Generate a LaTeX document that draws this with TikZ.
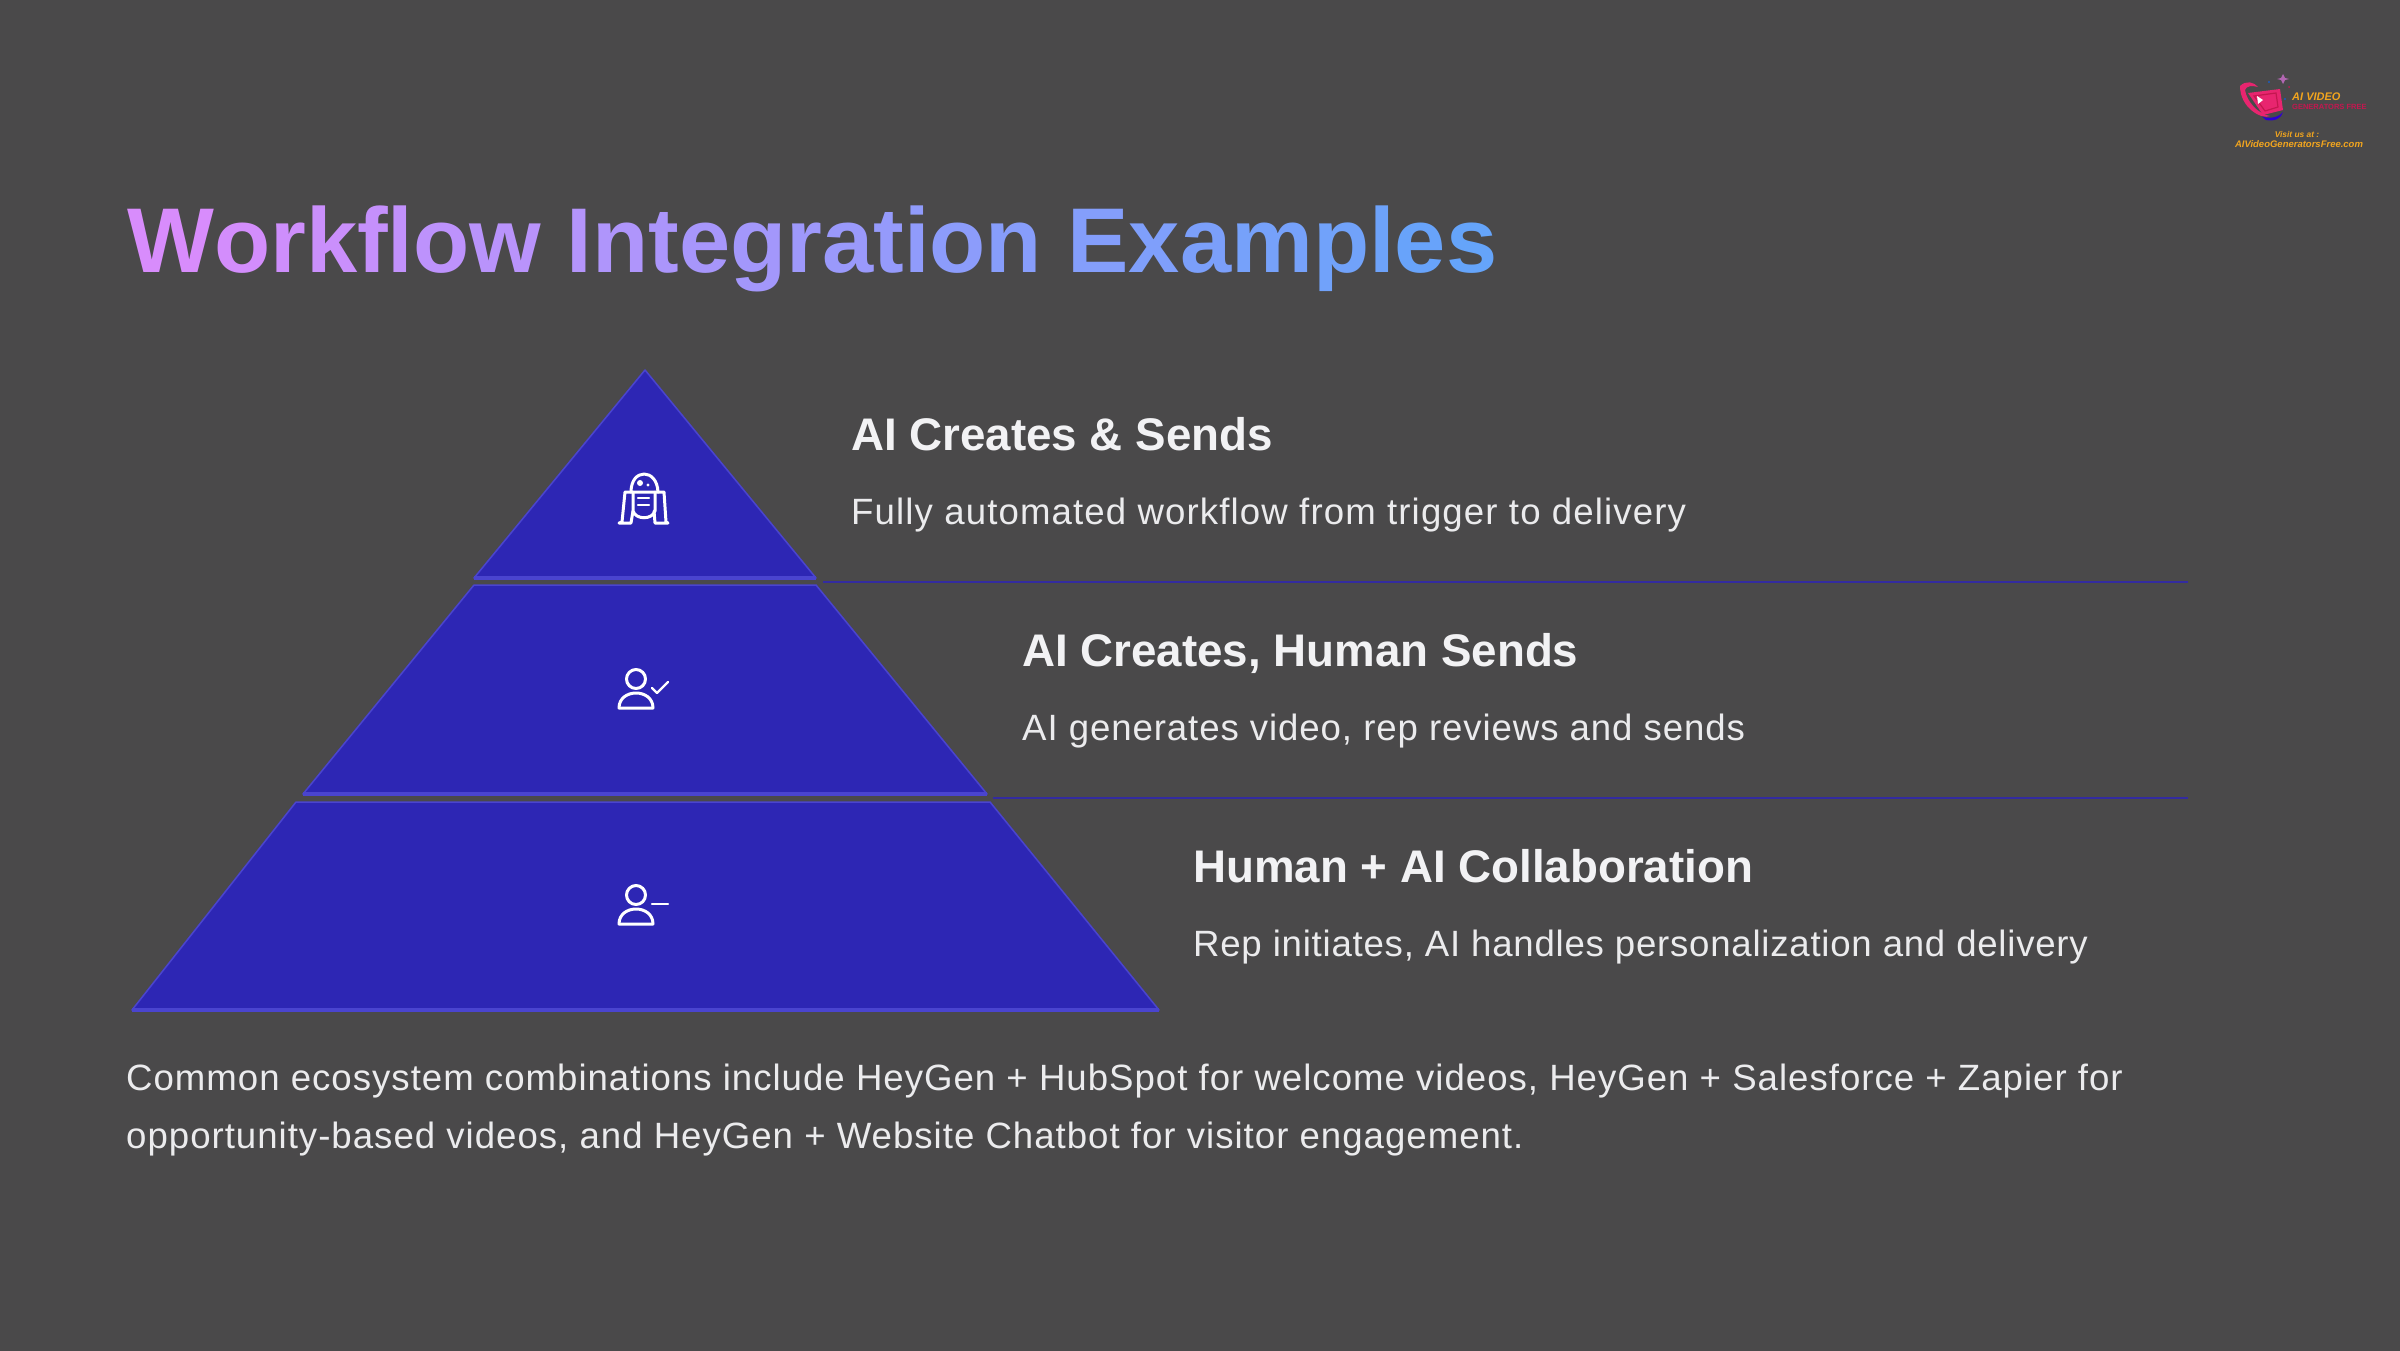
\documentclass[tikz,border=0pt]{standalone}
\usepackage{fontspec}
\setmainfont{Liberation Sans}
\newfontfamily\bodyfam[LetterSpace=2.5]{Liberation Sans}
\newfontfamily\bodyfamfoot[LetterSpace=2.75]{Liberation Sans}
\newfontfamily\bodyfamwide[LetterSpace=3.1]{Liberation Sans}
\newfontfamily\bodyfamtight[LetterSpace=2.1]{Liberation Sans}
\usetikzlibrary{calc}
\definecolor{bgc}{HTML}{4A494A}
\definecolor{tierfill}{HTML}{2D26B4}
\definecolor{tieredge}{HTML}{4A44CF}
\definecolor{rulec}{HTML}{332BA0}
\definecolor{headc}{HTML}{F2F2F4}
\definecolor{bodyc}{HTML}{EBEBED}
\definecolor{gradl}{HTML}{D88CFC}
\definecolor{gradr}{HTML}{5CA6FA}
\definecolor{logoorange}{HTML}{F2A51E}
\definecolor{logored}{HTML}{C4174F}
\definecolor{logopink}{HTML}{E8256F}
\newcount\gradn
\newcommand{\gradletter}[1]{\pgfmathtruncatemacro\gradp{100-\the\gradn*100/28}\textcolor{gradl!\gradp!gradr}{#1}\advance\gradn by 1\relax}
\newcommand{\gradtitle}{\gradn=0\relax
\gradletter{W}\gradletter{o}\gradletter{r}\gradletter{k}\gradletter{f}\gradletter{l}\gradletter{o}\gradletter{w} \gradletter{I}\gradletter{n}\gradletter{t}\gradletter{e}\gradletter{g}\gradletter{r}\gradletter{a}\gradletter{t}\gradletter{i}\gradletter{o}\gradletter{n} \gradletter{E}\gradletter{x}\gradletter{a}\gradletter{m}\gradletter{p}\gradletter{l}\gradletter{e}\gradletter{s}}
\tikzset{
  tier/.style={fill=tierfill,draw=tieredge,line width=1.5pt,line join=round},
  tierbase/.style={draw=tieredge,line width=4pt},
  tierrule/.style={draw=rulec,line width=2pt},
  headtext/.style={anchor=base west,inner sep=0pt,text=headc,font=\fontsize{45.7}{52}\selectfont\bfseries},
  bodytext/.style={anchor=base west,inner sep=0pt,text=bodyc,font=\bodyfam\fontsize{36.6}{44}\selectfont},
  bodyfoot/.style={bodytext,font=\bodyfamfoot\fontsize{36.6}{44}\selectfont},
  bodywide/.style={bodytext,font=\bodyfamwide\fontsize{36.6}{44}\selectfont},
  bodytight/.style={bodytext,font=\bodyfamtight\fontsize{36.6}{44}\selectfont},
  icon/.style={draw=white,line width=3pt,line cap=round,line join=round},
}
\begin{document}
\begin{tikzpicture}[x=1pt,y=-1pt]
\useasboundingbox (0,0) rectangle (2400,1350);
\fill[bgc] (-2,-2) rectangle (2402,1352);
% title
\node[anchor=base west,inner sep=0pt,font=\fontsize{92}{104}\selectfont\bfseries] (title) at (127,272) {\gradtitle};
% pyramid
\draw[tier] (645,370) -- (816,578) -- (474,578) -- cycle;
\draw[tierbase] (474,578) -- (816,578);
\draw[tier] (474,585) -- (816,585) -- (987,794) -- (303,794) -- cycle;
\draw[tierbase] (303,794) -- (987,794);
\draw[tier] (296,802) -- (990,802) -- (1159,1010) -- (132,1010) -- cycle;
\draw[tierbase] (132,1010) -- (1159,1010);
% rules
\coordinate (r1a) at (823,582); \coordinate (r1b) at (2188,582);
\coordinate (r2a) at (993,798); \coordinate (r2b) at (2188,798);
\draw[tierrule] (r1a) -- (r1b);
\draw[tierrule] (r2a) -- (r2b);
% texts
\node[headtext] (h1) at (851,450) {AI Creates \& Sends};
\node[bodywide] (b1) at (851,524) {Fully automated workflow from trigger to delivery};
\node[headtext] (h2) at (1022,666) {AI Creates, Human Sends};
\node[bodytext] (b2) at (1022,740) {AI generates video, rep reviews and sends};
\node[headtext] (h3) at (1193,882) {Human + AI Collaboration};
\node[bodytight] (b3) at (1193,956) {Rep initiates, AI handles personalization and delivery};
\node[bodyfoot] (foot1) at (126,1090) {Common ecosystem combinations include HeyGen + HubSpot for welcome videos, HeyGen + Salesforce + Zapier for};
\node[bodyfoot] (foot2) at (126,1148) {opportunity-based videos, and HeyGen + Website Chatbot for visitor engagement.};
% robot icon
\draw[icon] (631,492) .. controls (631,468) and (657,468) .. (658,492) -- cycle;
\draw[icon] (631,492) -- (625,492) -- (622,522) -- (619,523) -- (631,523) -- (633,511);
\draw[icon] (658,492) -- (664,492) -- (666,522) -- (668,523) -- (655,523) -- (654,511);
\draw[icon] (633,492) -- (633,511) .. controls (636,520) and (652,520) .. (655,511) -- (655,492);
\draw[icon,line width=2.4pt] (638,498) -- (649,498) (638,505) -- (649,505);
\fill[white] (640,483) circle (3); \fill[white] (648,485) circle (1.6);
% person check
\draw[icon] (636,679) circle (9.5);
\draw[icon] (619,708) .. controls (619,688) and (653,688) .. (653,708) -- cycle;
\draw[icon,line width=2.4pt] (652,688) -- (657,693) -- (668,682);
% person minus
\draw[icon] (636,895) circle (9.5);
\draw[icon] (619,924) .. controls (619,904) and (653,904) .. (653,924) -- cycle;
\draw[icon,line width=2.4pt] (652,904) -- (668,904);
% logo
\fill[logopink] (2248,93) -- (2280,89) -- (2283,110) -- (2263,115) -- cycle;
\draw[logored,line width=1.2pt] (2254,96) -- (2276,93) -- (2278,107) -- (2265,111) -- cycle;
\fill[logopink] (2240,86) .. controls (2246,80) and (2254,82) .. (2258,87) .. controls (2252,85) and (2246,86) .. (2245,90) .. controls (2247,102) and (2258,114) .. (2270,116) .. controls (2262,120) and (2240,108) .. (2240,86) -- cycle;
\fill[blue!65!violet] (2262,116.5) .. controls (2268,119) and (2278,118) .. (2283,112) .. controls (2282,118) and (2274,122) .. (2266,120) -- cycle;
\fill[white] (2257,96) -- (2263,100) -- (2258,104) -- cycle;
\fill[violet!60!white] (2283,74) -- (2285,78) -- (2289,79) -- (2285,80) -- (2283,84) -- (2281,80) -- (2277,79) -- (2281,78) -- cycle;
\fill[logored] (2289,87) circle (1);
\fill[blue!60!cyan] (2269,82) circle (0.9);
\fill[blue!60!cyan] (2285,99) circle (0.9);
\node[anchor=west,inner sep=0pt,text=logoorange,font=\fontsize{11}{12}\selectfont\bfseries\itshape] (logo1) at (2292,97) {AI VIDEO};
\node[anchor=west,inner sep=0pt,text=logored,font=\fontsize{7.5}{9}\selectfont\bfseries] (logo2) at (2292,106.5) {GENERATORS FREE};
\node[inner sep=0pt,text=logoorange,font=\fontsize{8.4}{9}\selectfont\bfseries\itshape] (logo3) at (2297,134) {Visit us at :};
\node[inner sep=0pt,text=logoorange,font=\fontsize{9.5}{11}\selectfont\bfseries\itshape] (logo4) at (2299,144) {AIVideoGeneratorsFree.com};
\end{tikzpicture}
\end{document}
